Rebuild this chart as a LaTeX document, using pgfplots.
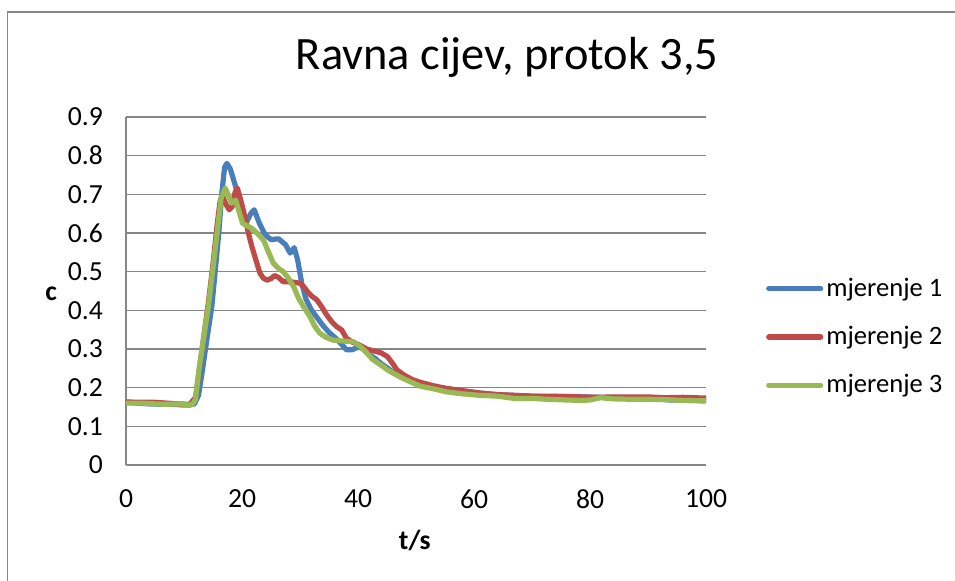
\documentclass[border=0pt]{standalone}
\usepackage{pgfplots}
\pgfplotsset{compat=1.18}
\usepackage{fontspec}
\setmainfont{Carlito}
\definecolor{s1}{HTML}{4A7EBB}
\definecolor{s2}{HTML}{BE4B48}
\definecolor{s3}{HTML}{98B954}
\definecolor{gridc}{HTML}{868686}
\begin{document}
\begin{tikzpicture}
\useasboundingbox (0,0) rectangle (477.5pt,290.5pt);
\draw[gridc, line width=0.8pt] (3.75pt,-5pt) -- (3.75pt,284.5pt) -- (490pt,284.5pt);
\begin{axis}[
  at={(63pt,58pt)}, anchor=south west,
  scale only axis, width=290pt, height=174pt,
  xmin=0, xmax=100, ymin=0, ymax=0.9,
  xtick={0,20,...,100},
  ytick={0,0.1,...,0.9},
  yticklabels={0,0.1,0.2,0.3,0.4,0.5,0.6,0.7,0.8,0.9},
  axis x line*=bottom, axis y line*=left,
  axis line style={gridc, line width=0.8pt, -},
  ymajorgrids, grid style={gridc, line width=0.8pt},
  major tick length=0pt,
  /pgf/number format/assume math mode=true,
  tick label style={font=\fontsize{13.8}{16}\selectfont, text=black},
  xticklabel style={yshift=-9pt},
  yticklabel style={xshift=-8pt},
  xlabel={t/s}, ylabel={c},
  xlabel style={at={(rel axis cs:0.498,-0.218)}, anchor=center, font=\fontsize{13.8}{16}\selectfont\bfseries},
  ylabel style={at={(rel axis cs:-0.129,0.491)}, anchor=center, rotate=-90, font=\fontsize{13.8}{16}\selectfont\bfseries},
  title={Ravna cijev, protok 3,5},
  title style={at={(rel axis cs:0.657,1.138)}, anchor=center, font=\fontsize{23.2}{26}\selectfont},
  legend style={at={(rel axis cs:1.103,0.368)}, anchor=west, draw=none, fill=none,
    font=\fontsize{13.3}{15}\selectfont, inner sep=0pt, row sep=10.5pt,
    nodes={inner sep=1.5pt}},
  legend cell align=left,
  legend image code/.code={\draw[#1, line width=2.6pt, line cap=round] (0pt,0pt) -- (26pt,0pt);},
  every axis plot/.append style={line width=2.6pt, line join=round, line cap=round},
]
\addplot[s1] coordinates {
(0,0.162)(2,0.160)(4,0.158)(6,0.157)(8,0.157)(10,0.155)(11,0.155)(11.8,0.158)(12.5,0.18)(13.1,0.237)(14,0.33)(14.8,0.41)(15.5,0.52)(16,0.6)(16.5,0.70)(17,0.77)(17.4,0.78)(18,0.765)(19,0.715)(20,0.64)(20.8,0.628)(21.5,0.65)(22.1,0.66)(23,0.625)(24,0.595)(25,0.583)(26.3,0.585)(27.5,0.57)(28.3,0.548)(29,0.562)(29.6,0.53)(30.3,0.47)(31,0.43)(32,0.40)(33,0.38)(34,0.36)(35,0.343)(36,0.33)(37,0.315)(38,0.298)(39,0.298)(40,0.305)(41,0.300)(42,0.285)(43,0.275)(44,0.262)(45,0.252)(46,0.24)(47,0.233)(48,0.225)(50,0.21)(52,0.203)(55,0.198)(58,0.192)(61,0.186)(64,0.182)(67,0.180)(70,0.178)(73,0.178)(76,0.177)(79,0.176)(82,0.175)(85,0.174)(88,0.172)(91,0.171)(94,0.168)(97,0.167)(100,0.166)
};
\addlegendentry{mjerenje 1}
\addplot[s2] coordinates {
(0,0.163)(3,0.162)(5,0.162)(7,0.160)(9,0.158)(11,0.157)(12,0.175)(12.5,0.23)(13.3,0.32)(14.2,0.42)(15,0.52)(15.7,0.62)(16.2,0.68)(16.6,0.698)(17.2,0.675)(17.8,0.660)(18.3,0.668)(18.8,0.705)(19.2,0.716)(19.7,0.69)(20.5,0.642)(21.1,0.60)(21.7,0.565)(22.4,0.53)(23.1,0.496)(23.7,0.483)(24.3,0.478)(25,0.482)(25.6,0.49)(26.3,0.485)(27.1,0.474)(28.3,0.474)(29.2,0.472)(30,0.470)(30.6,0.462)(31.3,0.448)(32,0.437)(32.9,0.427)(33.7,0.41)(34.6,0.388)(35.5,0.370)(36.3,0.358)(37.2,0.349)(38,0.328)(39,0.318)(40.3,0.310)(41.5,0.300)(43.2,0.293)(44,0.290)(45.1,0.28)(46,0.262)(46.7,0.246)(48,0.232)(49.5,0.22)(50.7,0.214)(53,0.205)(55.3,0.198)(58,0.192)(61,0.186)(64,0.182)(67,0.180)(70,0.178)(73,0.177)(76,0.177)(78.4,0.176)(81,0.175)(84,0.176)(87,0.176)(90,0.176)(93,0.174)(96,0.175)(100,0.173)
};
\addlegendentry{mjerenje 2}
\addplot[s3] coordinates {
(0,0.160)(3,0.160)(5,0.158)(7,0.157)(9,0.158)(10,0.157)(11,0.155)(11.5,0.158)(12,0.17)(12.5,0.237)(13.3,0.32)(14.2,0.41)(15,0.51)(15.7,0.6)(16.4,0.69)(17.1,0.716)(17.6,0.70)(18.2,0.677)(18.9,0.685)(19.4,0.66)(20.1,0.625)(21.7,0.612)(22.7,0.598)(23.7,0.582)(24.5,0.553)(25.4,0.522)(26.3,0.508)(27.1,0.500)(28,0.483)(28.9,0.461)(29.8,0.43)(30.6,0.41)(31.7,0.384)(32.5,0.36)(33.4,0.341)(34.5,0.330)(35.7,0.323)(37,0.321)(38,0.320)(39.2,0.319)(40.5,0.305)(41.5,0.29)(42.6,0.272)(44,0.258)(45,0.247)(46.1,0.237)(48,0.222)(50.7,0.204)(53,0.197)(55.3,0.189)(58,0.184)(61,0.180)(64,0.178)(67,0.172)(70,0.172)(72.6,0.170)(76,0.168)(78.4,0.167)(80,0.168)(81.8,0.174)(84,0.171)(87,0.170)(90,0.170)(93,0.169)(96,0.167)(100,0.166)
};
\addlegendentry{mjerenje 3}
\end{axis}
\end{tikzpicture}
\end{document}
